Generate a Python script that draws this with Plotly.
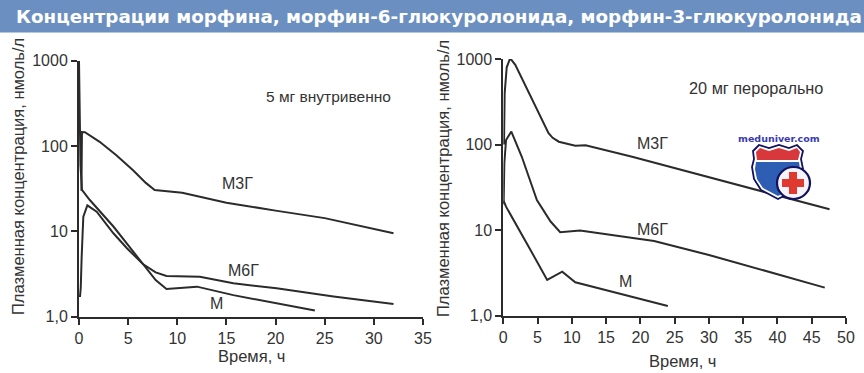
import plotly.graph_objects as go

W, H = 864, 373
TITLE = "Концентрации морфина, морфин-6-глюкуролонида, морфин-3-глюкуролонида"

Y_TICKS = [1, 10, 100, 1000]
Y_LABELS = ["1,0", "10", "100", "1000"]
X_TICKS_L = [0, 5, 10, 15, 20, 25, 30, 35]
X_TICKS_R = [0, 5, 10, 15, 20, 25, 30, 35, 40, 45, 50]

# Left panel: 5 mg IV
L_M3G_T = [0.25, 0.27, 0.3, 0.6, 2.1, 3.8, 5.5, 6.8, 7.7, 10.5, 15, 20, 25, 32]
L_M3G_V = [30, 100, 146, 145, 112, 78, 52, 37, 30.6, 28.4, 21.7, 17.5, 14.3, 9.5]
L_M6G_T = [0.1, 0.18, 0.27, 0.44, 0.85, 1.8, 3.5, 4.9, 6.5, 7.8, 8.9, 12.3, 15.7, 20.1, 25.9, 32]
L_M6G_V = [1.7, 2.2, 5, 14.9, 20.2, 17, 9.5, 6.3, 4.15, 3.3, 3.0, 2.94, 2.46, 2.15, 1.72, 1.41]
L_M_T = [0, 0.05, 0.15, 0.3, 1.1, 3.5, 6.5, 7.8, 8.9, 12, 15.7, 20.1, 24]
L_M_V = [1000, 300, 60, 30.6, 23.3, 11.4, 4.23, 2.69, 2.11, 2.25, 1.79, 1.44, 1.18]

# Right panel: 20 mg oral
R_M3G_T = [0.1, 0.2, 0.5, 1.0, 1.75, 4.2, 6.6, 7.2, 8.1, 10.5, 12, 18.8, 23.6, 31, 37.3, 47.6]
R_M3G_V = [100, 400, 800, 1020, 855, 333, 136, 120, 108, 97, 98, 72, 57, 40, 29.5, 17.5]
R_M6G_T = [0.05, 0.15, 0.4, 1.17, 2.7, 4.4, 4.9, 6.9, 8.3, 11.2, 14.9, 22, 30, 39.2, 46.9]
R_M6G_V = [20, 60, 113, 142, 72, 29.5, 22.5, 12.6, 9.45, 9.87, 9.0, 7.48, 5.13, 3.18, 2.13]
R_M_T = [0.05, 0.4, 3.7, 6.4, 8.6, 10.5, 14.9, 24]
R_M_V = [22, 18.8, 6.4, 2.62, 3.27, 2.46, 2.0, 1.3]

LINE = "#2b2b2b"
TEXT = "#333333"
FONT = "Liberation Sans"


def px(x):
    return x / W


def py(y):
    return 1 - y / H


fig = go.Figure()
for xa, ya, t, v in [
    ("x", "y", L_M3G_T, L_M3G_V), ("x", "y", L_M6G_T, L_M6G_V), ("x", "y", L_M_T, L_M_V),
    ("x2", "y2", R_M3G_T, R_M3G_V), ("x2", "y2", R_M6G_T, R_M6G_V), ("x2", "y2", R_M_T, R_M_V),
]:
    fig.add_trace(go.Scatter(x=t, y=v, xaxis=xa, yaxis=ya, mode="lines", showlegend=False,
                             cliponaxis=False, line=dict(color=LINE, width=2)))

axis_common = dict(showgrid=False, zeroline=False, showline=True, linecolor=LINE, linewidth=2,
                   ticks="outside", ticklen=6, tickwidth=1.6, tickcolor=LINE, automargin=False,
                   tickfont=dict(family=FONT, size=16, color=TEXT))


def yaxis(dom, anchor):
    return dict(type="log", range=[0, 3], domain=dom, anchor=anchor, tickmode="array",
                tickvals=Y_TICKS, ticktext=Y_LABELS, **axis_common)


shapes = [dict(type="rect", xref="paper", yref="paper", x0=0, x1=1, y0=py(32.5), y1=1,
               fillcolor="#6b8fc0", line_width=0, layer="below")]


def pts(points, ox=0, oy=0):
    parts = [f"{px(x + ox):.5f},{py(y + oy):.5f}" for x, y in points]
    return "M" + " L".join(parts) + " Z"


# Site logo: shield and cross
shield = [(756, 152), (762, 146), (772, 149), (782, 146), (792, 149), (800, 146), (806, 152),
          (804, 160), (806, 170), (805, 180), (798, 191), (781, 200), (764, 191), (757, 180),
          (755, 168), (757, 160)]
red = [(759, 153), (763, 149), (772, 152), (782, 149), (792, 152), (800, 149), (803, 153),
       (801, 161), (760, 161)]
blue = [(759, 163), (802, 163), (803, 170), (802, 180), (796, 189), (781, 197), (766, 189),
        (760, 180), (758, 170)]
cross = [(789, 172), (797, 172), (797, 179), (804, 179), (804, 187), (797, 187), (797, 194),
         (789, 194), (789, 187), (782, 187), (782, 179), (789, 179)]
for p, fill, lc, lw in [(shield, "#ffffff", "#12125e", 1.8), (red, "#d8383c", "#d8383c", 0),
                        (blue, "#2e5db4", "#2e5db4", 0)]:
    shapes.append(dict(type="path", xref="paper", yref="paper", path=pts(p, ox=-3, oy=-1),
                       fillcolor=fill, line=dict(color=lc, width=lw), layer="above"))
shapes.append(dict(type="circle", xref="paper", yref="paper", x0=px(777), x1=px(810), y0=py(199),
                   y1=py(167), fillcolor="#f4f4fa", line=dict(color="#12125e", width=2.2)))
shapes.append(dict(type="path", xref="paper", yref="paper", path=pts(cross), fillcolor="#e03a30",
                   line_width=0))


def note(text, x, y, size=14, color=TEXT, angle=0, family=FONT, bold=False):
    return dict(text=f"<b>{text}</b>" if bold else text, xref="paper", yref="paper", x=px(x), y=py(y),
                showarrow=False, textangle=angle, xanchor="center", yanchor="middle",
                font=dict(family=family, size=size, color=color))


annotations = [
    dict(text=f"<b>{TITLE}</b>", xref="paper", yref="paper", x=px(14), y=py(16), showarrow=False,
         xanchor="left", yanchor="middle", font=dict(family="DejaVu Sans", size=18.3, color="#ffffff")),
    note("5 мг внутривенно", 328, 97, 15.5),
    note("20 мг перорально", 756, 88, 16.3),
    note("М3Г", 237, 183, 16),
    note("М6Г", 243, 270, 16),
    note("М", 217, 303, 16),
    note("М3Г", 652, 143, 16),
    note("М6Г", 652, 229, 16),
    note("М", 625, 281, 16),
    note("Время, ч", 251, 356, 16.5),
    note("Время, ч", 682, 361, 16.5),
    note("Плазменная концентрация, нмоль/л", 18, 177, 16.5, angle=-90),
    note("Плазменная концентрация, нмоль/л", 443, 179, 16.5, angle=-90),
    note("meduniver.com", 779, 138, 9.5, color="#3a3ab0", family="DejaVu Sans", bold=True),
]

fig.update_layout(
    width=W, height=H, margin=dict(l=0, r=0, t=0, b=0), autosize=False,
    paper_bgcolor="#ffffff", plot_bgcolor="#ffffff", shapes=shapes, annotations=annotations,
    xaxis=dict(range=[0, 35], domain=[px(79), px(423)], anchor="y", tickmode="array",
               tickvals=X_TICKS_L, **axis_common),
    yaxis=yaxis([py(316.7), py(60.7)], "x"),
    xaxis2=dict(range=[0, 50], domain=[px(503.3), px(846)], anchor="y2", tickmode="array",
                tickvals=X_TICKS_R, **axis_common),
    yaxis2=yaxis([py(315.7), py(59)], "x2"),
)
fig.write_html("out.html", config={"displayModeBar": False},
               post_script="document.body.style.margin='0';")
